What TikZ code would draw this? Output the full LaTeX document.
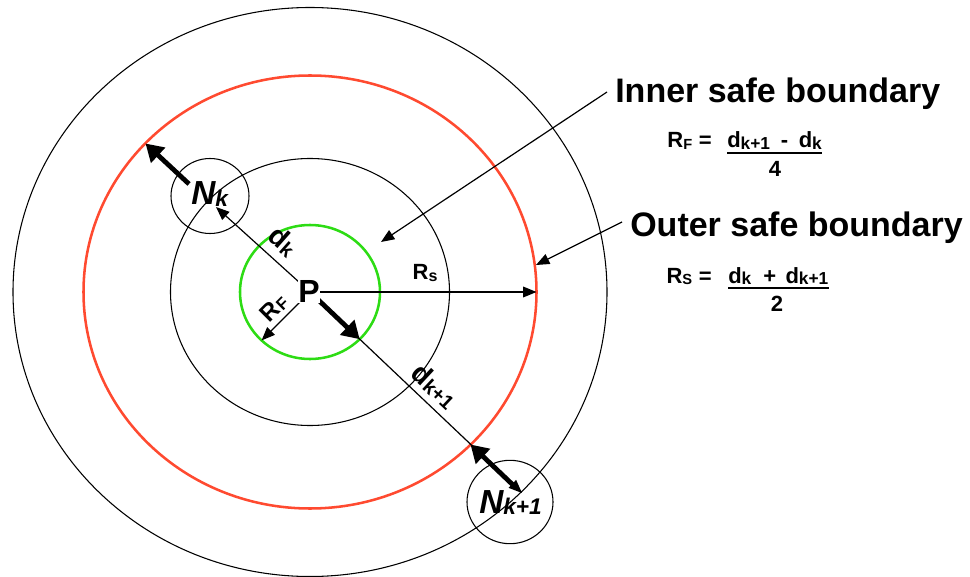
\documentclass[tikz,border=0pt]{standalone}
\usepackage{fontspec}
\setmainfont{Liberation Sans}
\usetikzlibrary{arrows.meta}
\definecolor{redc}{RGB}{255,74,48}
\definecolor{greenc}{RGB}{45,220,20}
\newcommand{\sbx}[2]{\raisebox{-1pt}{\fontsize{#1}{#1}\selectfont #2}}
\begin{document}
\begin{tikzpicture}[x=0.75pt,y=-0.75pt,
  ring/.style={draw=black, line width=0.8pt},
  redring/.style={draw=redc, line width=1.9pt},
  greenring/.style={draw=greenc, line width=1.9pt},
  arr/.style={draw, line width=0.9pt, -{Triangle[length=10pt,width=8pt]}},
  bigarr/.style={draw, line width=3.6pt, -{Triangle[length=13pt,width=15pt]}},
  lbl/.style={inner sep=0pt, font=\bfseries\fontsize{21}{21}\selectfont},
  biglbl/.style={inner sep=0pt, anchor=base west, font=\bfseries\fontsize{25.5}{26}\selectfont},
  frm/.style={inner sep=0pt, font=\bfseries\fontsize{16.5}{17}\selectfont},
  ulin/.style={draw, line width=1.4pt}]
\useasboundingbox (0,0) rectangle (970,577);

% centres and points
\coordinate (C) at (310,292);
\coordinate (NkC) at (210,196);
\coordinate (NkoC) at (510,502);
\coordinate (NkTip) at (216,207);
\coordinate (NkoTip) at (522,493);
\coordinate (NkStart) at (189,184);
\coordinate (RedNk) at (145.5,143.5);
\coordinate (NkoStart) at (513,485);
\coordinate (RedNko) at (470.5,444.5);
\coordinate (GreenSE) at (359.7,339.2);
\coordinate (GreenSW) at (261.6,340.4);
\coordinate (RedE) at (536.5,292);
\coordinate (InStart) at (607,92);
\coordinate (InTip) at (381,242);
\coordinate (OutStart) at (622,222);
\coordinate (OutTip) at (536,265);

% circles
\draw[ring] (C) ellipse [x radius=297, y radius=284.5];
\draw[redring] (C) ellipse [x radius=226.5, y radius=216.5];
\draw[ring] (C) ellipse [x radius=139.5, y radius=133.5];
\draw[greenring] (C) ellipse [x radius=70, y radius=67];
\draw[ring] (NkC) ellipse [x radius=39, y radius=37.5];
\draw[ring] (NkoC) ellipse [x radius=43, y radius=41.7];

% connectors
\draw[arr] (C) -- (NkTip);
\draw[arr] (C) -- (NkoTip);
\draw[arr] (C) -- (RedE);
\draw[arr] (C) -- (GreenSW);
\draw[bigarr] (C) -- (GreenSE);
\draw[bigarr] (NkStart) -- (RedNk);
\draw[bigarr] (NkoStart) -- (RedNko);
\draw[arr] (InStart) -- (InTip);
\draw[arr] (OutStart) -- (OutTip);

% labels in the diagram
\node[inner sep=0.6pt, fill=white, font=\bfseries\fontsize{24}{24}\selectfont] (P) at (309,291) {P};
\node[inner sep=0pt, anchor=base west, font=\bfseries\itshape\fontsize{25}{25}\selectfont] (Nk) at (191,205) {N\sbx{17}{k}};
\node[inner sep=0pt, anchor=base west, font=\bfseries\itshape\fontsize{25}{25}\selectfont] (Nko) at (479,513) {N\sbx{17}{k+1}};
\node[lbl, rotate=-41.5] (dk) at (283,241) {d\sbx{15}{k}};
\node[lbl, rotate=-43] (dko) at (435,386) {d\sbx{15}{k+1}};
\node[inner sep=0pt, font=\bfseries\fontsize{16.5}{17}\selectfont] (rs) at (425,273) {R\sbx{12}{s}};
\node[inner sep=0pt, rotate=45, font=\bfseries\fontsize{18}{18}\selectfont] (rfl) at (274,308) {R\sbx{12.5}{F}};

% right-hand texts
\node[biglbl] (inner) at (615,103) {Inner safe boundary};
\node[biglbl] (outer) at (630,237) {Outer safe boundary};

\node[frm, anchor=base east] (rfeq) at (712,148) {R\sbx{11}{F}\hspace{5pt}=};
\node[frm, anchor=base west] (rfnum) at (727,148) {d\sbx{13}{k+1}\hspace{8pt}-\hspace{8pt}d\sbx{13}{k}};
\draw[ulin] ([yshift=-3.5pt]rfnum.base west) -- ([yshift=-3.5pt]rfnum.base east);
\node[frm] (rfden) at (775,169) {4};

\node[frm, anchor=base east] (rseq) at (712,283) {R\sbx{11}{S}\hspace{5pt}=};
\node[frm, anchor=base west] (rsnum) at (728,283) {d\sbx{13}{k}\hspace{9pt}+\hspace{7pt}d\sbx{13}{k+1}};
\draw[ulin] ([yshift=-3.5pt]rsnum.base west) -- ([yshift=-3.5pt]rsnum.base east);
\node[frm] (rsden) at (777,304) {2};
\end{tikzpicture}
\end{document}
